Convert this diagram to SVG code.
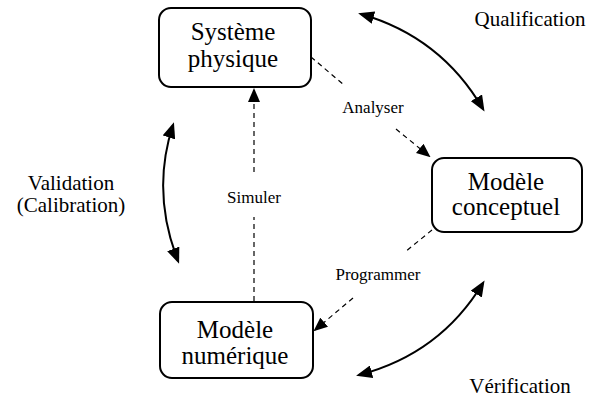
<svg xmlns="http://www.w3.org/2000/svg" width="594" height="401" viewBox="0 0 594 401">
<style>
.box{fill:#fff;stroke:#000;stroke-width:2}
.dash{fill:none;stroke:#000;stroke-width:1.2;stroke-dasharray:5,4}
.arc{fill:none;stroke:#000;stroke-width:2}
</style>
<defs>
<marker id="bigE" markerUnits="userSpaceOnUse" viewBox="0 0 16 13" markerWidth="16" markerHeight="13" refX="13" refY="6.5" orient="auto">
<path d="M0,0 L16,6.5 L0,13 z" fill="#000"/>
</marker>
<marker id="bigS" markerUnits="userSpaceOnUse" viewBox="0 0 16 13" markerWidth="16" markerHeight="13" refX="3" refY="6.5" orient="auto">
<path d="M16,0 L0,6.5 L16,13 z" fill="#000"/>
</marker>
<marker id="small" markerUnits="userSpaceOnUse" viewBox="0 0 14 12" markerWidth="14" markerHeight="12" refX="12" refY="6" orient="auto">
<path d="M0,0 L14,6 L0,12 z" fill="#000"/>
</marker>
</defs>
<g id="connectors">
<line class="dash" x1="311" y1="57" x2="344" y2="85"/>
<line class="dash" x1="396" y1="129" x2="429" y2="156" marker-end="url(#small)"/>
<line class="dash" x1="254" y1="301" x2="254" y2="217"/>
<line class="dash" x1="254" y1="172" x2="254" y2="90" marker-end="url(#small)"/>
<line class="dash" x1="432" y1="230" x2="405" y2="252"/>
<line class="dash" x1="353" y1="298" x2="315" y2="330" marker-end="url(#small)"/>
<path class="arc" d="M361,14 Q441,37 483,109" marker-start="url(#bigS)" marker-end="url(#bigE)"/>
<path class="arc" d="M173,125 Q151,192 178,261" marker-start="url(#bigS)" marker-end="url(#bigE)"/>
<path class="arc" d="M483,283 Q440,354 359,375" marker-start="url(#bigS)" marker-end="url(#bigE)"/>
<text font-family="Liberation Serif, serif" font-size="17" text-anchor="middle" x="373" y="113">Analyser</text>
<text font-family="Liberation Serif, serif" font-size="17" text-anchor="middle" x="254" y="203">Simuler</text>
<text font-family="Liberation Serif, serif" font-size="17" text-anchor="middle" x="378" y="280">Programmer</text>
<text font-family="Liberation Serif, serif" font-size="21" text-anchor="middle" x="530" y="26">Qualification</text>
<text font-family="Liberation Serif, serif" font-size="21" text-anchor="middle" x="71" y="190">Validation</text>
<text font-family="Liberation Serif, serif" font-size="21" text-anchor="middle" x="71" y="212">(Calibration)</text>
<text font-family="Liberation Serif, serif" font-size="21" text-anchor="middle" x="520" y="393">Vérification</text>
</g>
<g id="systeme">
<rect class="box" x="159" y="8" width="152" height="79" rx="12"/>
<text font-family="Liberation Serif, serif" font-size="25" text-anchor="middle" x="233" y="40">Système</text>
<text font-family="Liberation Serif, serif" font-size="25" text-anchor="middle" x="233" y="67">physique</text>
</g>
<g id="conceptuel">
<rect class="box" x="432" y="158" width="150" height="74" rx="12"/>
<text font-family="Liberation Serif, serif" font-size="25" text-anchor="middle" x="506" y="190">Modèle</text>
<text font-family="Liberation Serif, serif" font-size="25" text-anchor="middle" x="506" y="215">conceptuel</text>
</g>
<g id="numerique">
<rect class="box" x="160" y="302" width="153" height="76" rx="12"/>
<text font-family="Liberation Serif, serif" font-size="25" text-anchor="middle" x="235" y="338">Modèle</text>
<text font-family="Liberation Serif, serif" font-size="25" text-anchor="middle" x="235" y="364">numérique</text>
</g>
</svg>
